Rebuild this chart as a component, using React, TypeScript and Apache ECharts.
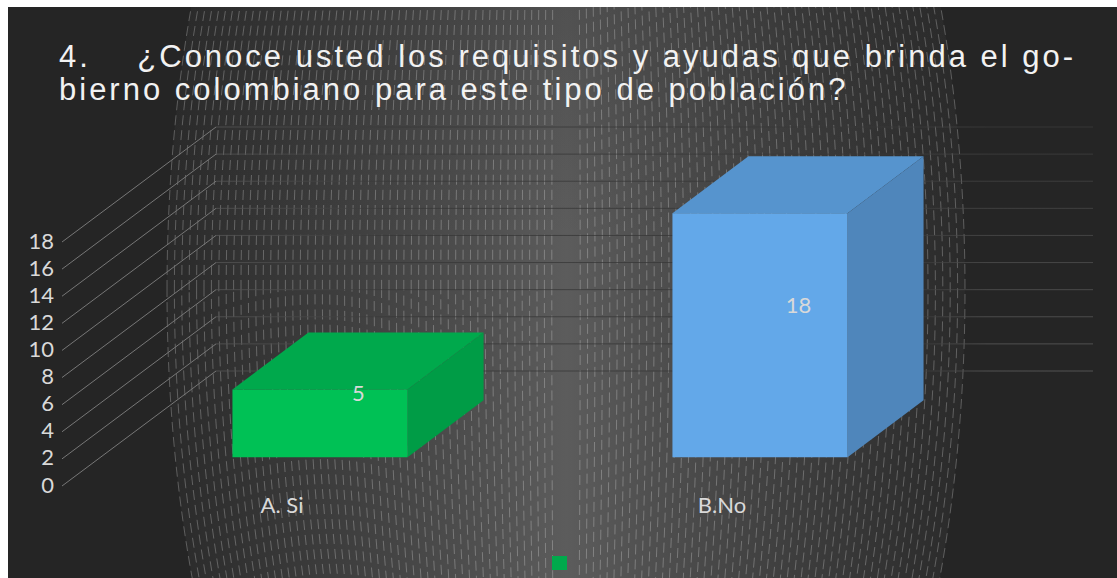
import React, { useEffect, useRef } from "react";
import * as echarts from "echarts";

const titleLines = [
  "4.    ¿Conoce usted los requisitos y ayudas que brinda el go-",
  "bierno colombiano para este tipo de población?",
];
const categories = ["A. Si", "B.No"];
const seriesName = "Serie 1";
const values = [5, 18];
const yTicks = [0, 2, 4, 6, 8, 10, 12, 14, 16, 18];
const frontColors = ["#00C155", "#63A8E9"];
const topColors = ["#00A94C", "#5694CE"];
const sideColors = ["#009C46", "#4F86BB"];

const W = 1109;
const H = 571;
const DEPTH_X = 154;
const DEPTH_Y = 115;
const WALL_RIGHT = 1085;

function backdrop() {
  const cx = 558;
  const cy = 283;
  const out: any[] = [
    { type: "rect", shape: { x: 0, y: 0, width: W, height: H }, style: { fill: "#252525" } },
    {
      type: "ellipse",
      shape: { cx, cy, rx: 399, ry: 822 },
      style: {
        fill: new echarts.graphic.LinearGradient(0, 0, 1, 0, [
          { offset: 0, color: "#2a2a2a" },
          { offset: 0.22, color: "#3e3e3e" },
          { offset: 0.4, color: "#505050" },
          { offset: 0.5, color: "#5c5c5c" },
          { offset: 0.6, color: "#505050" },
          { offset: 0.78, color: "#3e3e3e" },
          { offset: 1, color: "#2a2a2a" },
        ]),
      },
    },
    {
      type: "rect",
      shape: { x: 0, y: 0, width: W, height: H },
      style: {
        fill: new echarts.graphic.LinearGradient(0, 0, 0, 1, [
          { offset: 0, color: "rgba(37,37,37,0.2)" },
          { offset: 0.4, color: "rgba(37,37,37,0)" },
          { offset: 1, color: "rgba(37,37,37,0)" },
        ]),
      },
    },
  ];
  for (let rx = 399; rx > 8; rx -= 7.4) {
    out.push({
      type: "ellipse",
      shape: { cx, cy, rx, ry: 822 },
      style: { fill: "none", stroke: "rgba(255,255,255,0.25)", lineWidth: 1, lineDash: [10, 5] },
    });
  }
  return out;
}

export default function App() {
  const ref = useRef<HTMLDivElement>(null);
  useEffect(() => {
    const chart = echarts.init(ref.current!, null, { renderer: "svg" });
    chart.setOption({
      animation: false,
      backgroundColor: "#252525",
      title: {
        text: titleLines.join("\n"),
        left: 51,
        top: 33,
        padding: 0,
        textStyle: {
          fontFamily: "Liberation Sans",
          fontSize: 31,
          fontWeight: "normal",
          color: "#f2f2f2",
          lineHeight: 33,
        },
      },
      legend: {
        data: [{ name: seriesName, icon: "rect" }],
        left: 544,
        top: 549,
        padding: 0,
        itemWidth: 15,
        itemHeight: 14,
        itemGap: 0,
        formatter: () => "",
      },
      graphic: { elements: backdrop().map((e) => ({ ...e, silent: true, z: -1 })) },
      grid: { left: 54, top: 235, width: 880, height: 244 },
      xAxis: {
        type: "category",
        data: categories,
        axisLine: { show: false },
        axisTick: { show: false },
        splitLine: { show: false },
        axisLabel: { color: "#d9d9d9", fontFamily: "Lato", fontSize: 22, margin: 7 },
      },
      yAxis: {
        type: "value",
        min: 0,
        max: 18,
        interval: 2,
        axisLine: { show: false },
        axisTick: { show: false },
        splitLine: { show: false },
        axisLabel: {
          color: "#d9d9d9",
          fontFamily: "Lato",
          fontSize: 22,
          margin: 8,
          verticalAlign: "bottom",
          lineHeight: 4,
        },
      },
      series: [
        {
          name: "Muro",
          type: "custom",
          silent: true,
          clip: false,
          z: 1,
          data: yTicks.map((v) => [0, v]),
          encode: { x: 0, y: 1 },
          renderItem: (_p: any, api: any) => {
            const v = api.value(1);
            const c = api.coord([0, v]);
            const halfCat = api.size([1, 0])[0] / 2;
            const x0 = c[0] - halfCat;
            const y0 = c[1];
            const far = (0.85 - v * 0.03).toFixed(2);
            const wallLeft = x0 + DEPTH_X;
            return {
              type: "group",
              children: [
                {
                  type: "line",
                  shape: { x1: x0, y1: y0, x2: wallLeft, y2: y0 - DEPTH_Y },
                  style: { stroke: "#777777", lineWidth: 1 },
                },
                {
                  type: "line",
                  shape: { x1: wallLeft, y1: y0 - DEPTH_Y, x2: WALL_RIGHT, y2: y0 - DEPTH_Y },
                  style: {
                    stroke: new echarts.graphic.LinearGradient(
                      wallLeft,
                      0,
                      WALL_RIGHT,
                      0,
                      [
                        { offset: 0, color: "rgba(85,85,85,0.8)" },
                        { offset: 0.2, color: "rgba(55,55,55,0.8)" },
                        { offset: 0.8, color: "rgba(55,55,55,0.8)" },
                        { offset: 0.88, color: `rgba(90,90,90,${far})` },
                        { offset: 1, color: `rgba(90,90,90,${far})` },
                      ],
                      true
                    ),
                    lineWidth: 1,
                  },
                },
              ],
            };
          },
        },
        {
          name: seriesName,
          type: "custom",
          clip: false,
          z: 3,
          itemStyle: { color: "#00A94C" },
          data: values.map((v, i) => [i, v]),
          encode: { x: 0, y: 1 },
          renderItem: (_p: any, api: any) => {
            const i = api.value(0);
            const v = api.value(1);
            const top = api.coord([i, v]);
            const base = api.coord([i, 0]);
            const mid = api.coord([i, v / 2]);
            const bw = api.size([1, 0])[0] * 0.398;
            const dx = DEPTH_X / 2;
            const dy = DEPTH_Y / 2;
            const x1 = top[0] + dx / 2 - bw / 2 - 0.5;
            const x2 = x1 + bw;
            const yT = top[1] - dy / 2;
            const yB = base[1] - dy / 2;
            const bd = 76;
            const bh = 57;
            return {
              type: "group",
              children: [
                {
                  type: "polygon",
                  shape: { points: [[x1, yT], [x2, yT], [x2 + bd, yT - bh], [x1 + bd, yT - bh]] },
                  style: { fill: topColors[i] },
                },
                {
                  type: "polygon",
                  shape: { points: [[x2, yT], [x2 + bd, yT - bh], [x2 + bd, yB - bh], [x2, yB]] },
                  style: { fill: sideColors[i] },
                },
                {
                  type: "rect",
                  shape: { x: x1, y: yT, width: bw, height: yB - yT },
                  style: { fill: frontColors[i] },
                },
                {
                  type: "text",
                  style: {
                    text: String(v),
                    x: mid[0] + 76.5,
                    y: mid[1] - 59.5,
                    fill: "#d9d9d9",
                    font: "22px Lato",
                    align: "center",
                    verticalAlign: "middle",
                  },
                },
              ],
            };
          },
        },
      ],
    });
    return () => chart.dispose();
  }, []);
  return (
    <>
      <style>{`svg text[style*="31px"]{letter-spacing:3px}`}</style>
      <div
        ref={ref}
        style={{ position: "fixed", left: 8, top: 7, width: W, height: H, overflow: "hidden" }}
      />
    </>
  );
}
